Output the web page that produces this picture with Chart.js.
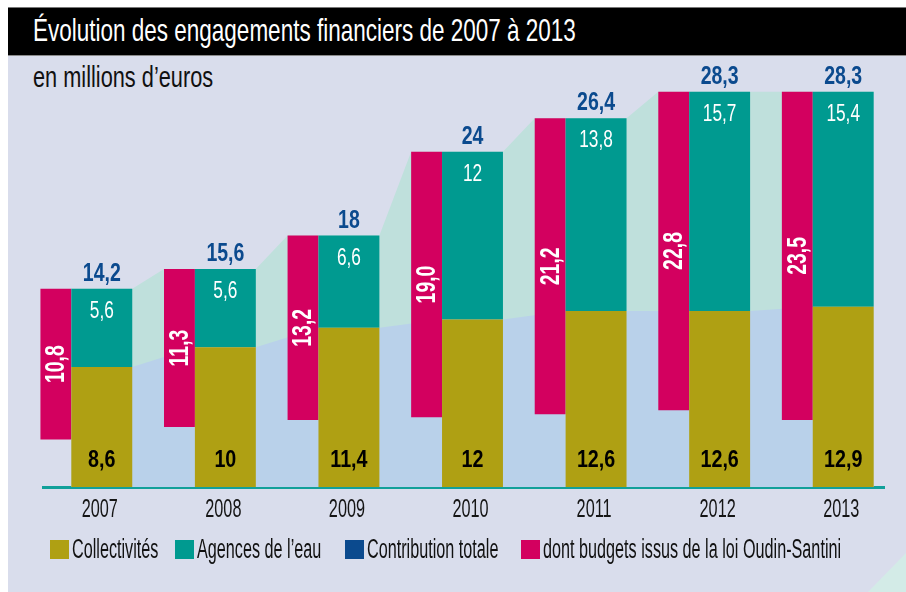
<!DOCTYPE html>
<html lang="fr">
<head>
<meta charset="UTF-8">
<title>Évolution des engagements financiers de 2007 à 2013</title>
<script src="https://cdn.jsdelivr.net/npm/chart.js"></script>
<style>
  body { margin: 0; width: 906px; height: 592px; background: #fff; overflow: hidden; position: relative;
         font-family: 'Liberation Sans', Arial, sans-serif; }
  .fond { position: absolute; left: 8px; top: 7px; right: 0; bottom: 0; background: #d9ddec; }
  .titre { position: absolute; left: 8px; top: 7px; right: 0; height: 49px; background: #000;
           border-top: 1px solid #777; border-bottom: 1px solid #8a8a8a; box-sizing: border-box; }
  .titre span { position: absolute; left: 25px; top: 4px; color: #fff; font-size: 32px; white-space: nowrap;
                transform: scaleX(0.703); transform-origin: left top; }
  .sous-titre { position: absolute; left: 33px; top: 60px; font-size: 30px; color: #111; white-space: nowrap;
                transform: scaleX(0.725); transform-origin: left top; }
  .coin { position: absolute; right: 0; bottom: 0; width: 38px; height: 39px; background: #d3ebe7;
          clip-path: polygon(100% 0, 100% 100%, 0 100%); }
  #graph { position: absolute; left: 0; top: 0; }
  .legende span.item { position: absolute; top: 540px; height: 19px; white-space: nowrap; }
  .legende i { position: absolute; left: 0; top: 0; width: 19px; height: 19px; }
  .legende b { position: absolute; left: 22px; top: -6px; font-weight: normal; font-size: 27px; color: #111;
               transform: scaleX(0.6); transform-origin: left top; }
</style>
</head>
<body>
  <div class="fond"></div>
  <div class="coin"></div>
  <div class="titre"><span>Évolution des engagements financiers de 2007 à 2013</span></div>
  <div class="sous-titre">en millions d’euros</div>
  <canvas id="graph" width="906" height="592"></canvas>
  <div class="legende" id="legende"></div>

<script>
// Données (millions d'euros)
const annees = ['2007', '2008', '2009', '2010', '2011', '2012', '2013'];
const collectivites = [8.6, 10, 11.4, 12, 12.6, 12.6, 12.9];
const agences = [5.6, 5.6, 6.6, 12, 13.8, 15.7, 15.4];
const totaux = [14.2, 15.6, 18, 24, 26.4, 28.3, 28.3];
const oudinSantini = [10.8, 11.3, 13.2, 19.0, 21.2, 22.8, 23.5];

const series = ['Collectivités', 'Agences de l’eau', 'Contribution totale', 'dont budgets issus de la loi Oudin-Santini'];
const couleurs = ['#afa013', '#009a90', '#0b4a8e', '#d3005f'];
const positionsLegende = [50, 175, 345, 521];

// largeurs des barres en fraction de categorie
const LARGEUR_PILE = 0.493;
const LARGEUR_OUDIN = 0.25;
const demi = LARGEUR_PILE / 2;
const decalOudin = (LARGEUR_PILE + LARGEUR_OUDIN) / 2;

const fmt = v => String(v).replace('.', ',');
const police = "'Liberation Sans', Arial, sans-serif";

// aires de fond (contribution totale et collectivités)
const aireTotal = [];
const aireColl = [];
annees.forEach((a, i) => {
    aireTotal.push({ x: i === 0 ? i - demi : i - demi - LARGEUR_OUDIN, y: totaux[i] });
    aireTotal.push({ x: i + demi, y: totaux[i] });
    aireColl.push({ x: i - demi, y: collectivites[i] });
    aireColl.push({ x: i + demi, y: collectivites[i] });
});

// texte resserre horizontalement (imite une police condensee)
function texte(ctx, t, x, y, serre, rot) {
    ctx.save();
    ctx.translate(x, y);
    if (rot) ctx.rotate(rot);
    ctx.scale(serre, 1);
    ctx.fillText(t, 0, 0);
    ctx.restore();
}

const etiquettes = {
    id: 'etiquettes',
    beforeDatasetsDraw(chart) {
        const ctx = chart.ctx;
        const y0 = chart.scales.y.getPixelForValue(0);
        const a = chart.chartArea;
        ctx.save();
        ctx.fillStyle = '#11a09a';
        ctx.fillRect(a.left + 2, y0 - 1, a.right - a.left - 22, 3);
        ctx.restore();
    },
    afterDatasetsDraw(chart) {
        const ctx = chart.ctx;
        const sx = chart.scales.x;
        const y0 = chart.scales.y.getPixelForValue(0);
        const mColl = chart.getDatasetMeta(0).data;
        const mAg = chart.getDatasetMeta(1).data;
        const mOudin = chart.getDatasetMeta(3).data;
        ctx.save();
        ctx.textAlign = 'center';
        ctx.textBaseline = 'alphabetic';
        // libelles de l'axe des annees
        ctx.fillStyle = '#151515';
        ctx.font = '25px ' + police;
        sx.ticks.forEach((t, i) => texte(ctx, sx.getLabelForValue(t.value), sx.getPixelForTick(i) - 2, y0 + 30, 0.65));
        annees.forEach((an, i) => {
            const ag = mAg[i], co = mColl[i], ou = mOudin[i];
            ctx.fillStyle = couleurs[2];
            ctx.font = 'bold 25px ' + police;
            texte(ctx, fmt(totaux[i]), ag.x, ag.y - 8, 0.78);
            ctx.fillStyle = '#fff';
            ctx.font = '24px ' + police;
            texte(ctx, fmt(agences[i]), ag.x, ag.y + 29, 0.72);
            ctx.fillStyle = '#000';
            ctx.font = 'bold 24px ' + police;
            texte(ctx, fmt(collectivites[i]), co.x, co.base - 20, 0.82);
            // valeur Oudin-Santini verticale
            ctx.fillStyle = '#fff';
            ctx.font = 'bold 27px ' + police;
            ctx.textBaseline = 'middle';
            texte(ctx, oudinSantini[i].toFixed(1).replace('.', ','), ou.x + 1, (ou.y + ou.base) / 2, 0.72, -Math.PI / 2);
            ctx.textBaseline = 'alphabetic';
        });
        ctx.restore();
    }
};

new Chart(document.getElementById('graph'), {
    type: 'bar',
    data: {
        labels: annees,
        datasets: [
            {
                label: series[0], data: collectivites, stack: 'pile', grouped: false,
                backgroundColor: couleurs[0], barPercentage: LARGEUR_PILE, categoryPercentage: 1, order: 1
            },
            {
                label: series[1], data: agences, stack: 'pile', grouped: false,
                backgroundColor: couleurs[1], barPercentage: LARGEUR_PILE, categoryPercentage: 1, order: 1
            },
            {
                type: 'line', label: series[2], data: totaux, showLine: false, pointRadius: 0,
                backgroundColor: couleurs[2], borderWidth: 0, order: 1
            },
            {
                label: series[3], xAxisID: 'x2', stack: 'oudin', grouped: false,
                data: oudinSantini.map((v, i) => ({ x: i - decalOudin, y: [totaux[i] - v, totaux[i]] })),
                backgroundColor: couleurs[3], barPercentage: LARGEUR_OUDIN, categoryPercentage: 1, order: 1
            },
            {
                type: 'line', label: 'aire totale', xAxisID: 'x2', data: aireTotal,
                fill: 'origin', backgroundColor: '#bfe0dc', borderWidth: 0, pointRadius: 0, order: 10
            },
            {
                type: 'line', label: 'aire collectivites', xAxisID: 'x2', data: aireColl,
                fill: 'origin', backgroundColor: '#b9d1ea', borderWidth: 0, pointRadius: 0, order: 9
            }
        ]
    },
    options: {
        responsive: false,
        animation: false,
        layout: { padding: { left: 40, right: 1, top: 68, bottom: 105 } },
        plugins: { legend: { display: false }, tooltip: { enabled: false } },
        scales: {
            x: { type: 'category', offset: true, display: false },
            x2: {
                type: 'linear', display: false, offset: false, grid: { offset: false },
                min: -0.5, max: 6.5,
                afterBuildTicks: axe => { axe.ticks = annees.map((a, i) => ({ value: i })); }
            },
            y: { display: false, min: 0, max: 30 }
        }
    },
    plugins: [etiquettes]
});

// légende
document.getElementById('legende').innerHTML = series.map((s, i) =>
    `<span class="item" style="left:${positionsLegende[i]}px"><i style="background:${couleurs[i]}"></i><b>${s}</b></span>`).join('');
</script>
</body>
</html>
